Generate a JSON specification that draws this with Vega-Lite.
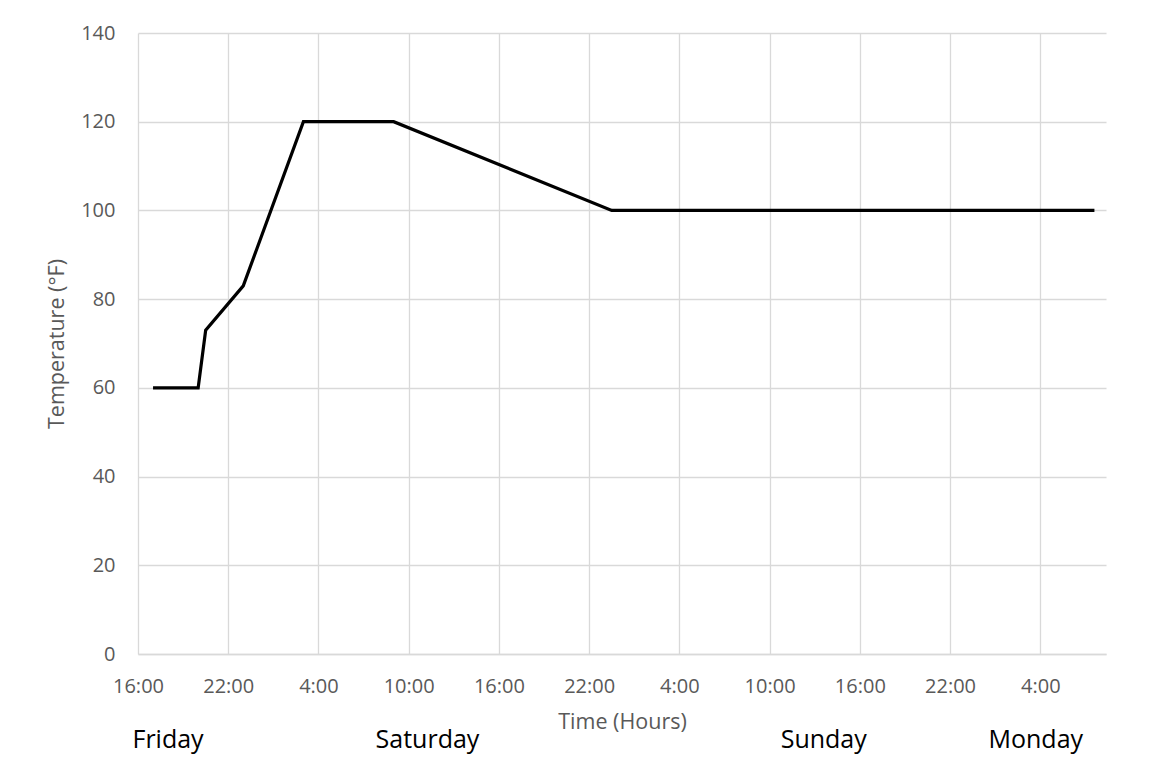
{
  "$schema": "https://vega.github.io/schema/vega-lite/v6.json",
  "width": 968,
  "height": 621,
  "autosize": {"type": "none"},
  "padding": {"left": 138, "top": 33, "right": 47, "bottom": 115},
  "background": "white",
  "config": {"view": {"stroke": null}, "font": "Open Sans"},
  "datasets": {
    "temps": [
      {"hour": 1.0, "temp": 60},
      {"hour": 4.0, "temp": 60},
      {"hour": 4.5, "temp": 73},
      {"hour": 7.0, "temp": 83},
      {"hour": 11.0, "temp": 120},
      {"hour": 17.0, "temp": 120},
      {"hour": 31.5, "temp": 100},
      {"hour": 63.6, "temp": 100}
    ],
    "days": [
      {"day": "Friday", "hour": 2.0},
      {"day": "Saturday", "hour": 19.25},
      {"day": "Sunday", "hour": 45.6},
      {"day": "Monday", "hour": 59.7}
    ]
  },
  "layer": [
    {
      "data": {"name": "temps"},
      "mark": {"type": "line", "color": "black", "strokeWidth": 3.2},
      "encoding": {
        "x": {
          "field": "hour",
          "type": "quantitative",
          "scale": {"domain": [0, 64.37], "nice": false, "zero": false},
          "axis": {
            "values": [0, 6, 12, 18, 24, 30, 36, 42, 48, 54, 60],
            "labelExpr": "((16 + datum.value) % 24) + ':00'",
            "title": "Time (Hours)",
            "grid": true,
            "gridColor": "#d9d9d9",
            "gridWidth": 1.3,
            "ticks": false,
            "domainColor": "#d9d9d9",
            "domainWidth": 1.3,
            "labelFont": "Open Sans",
            "labelFontSize": 20,
            "labelColor": "#595959",
            "labelPadding": 22,
            "labelFlush": false,
            "labelOverlap": false,
            "titleFont": "Open Sans",
            "titleFontSize": 21.5,
            "titleFontWeight": "normal",
            "titleColor": "#595959",
            "titlePadding": 15
          }
        },
        "y": {
          "field": "temp",
          "type": "quantitative",
          "scale": {"domain": [0, 140], "nice": false},
          "axis": {
            "values": [0, 20, 40, 60, 80, 100, 120, 140],
            "title": "Temperature (°F)",
            "grid": true,
            "gridColor": "#d9d9d9",
            "gridWidth": 1.3,
            "ticks": false,
            "domain": false,
            "labelFont": "Open Sans",
            "labelFontSize": 20,
            "labelColor": "#595959",
            "labelPadding": 23,
            "labelFlush": false,
            "labelOverlap": false,
            "titleFont": "Open Sans",
            "titleFontSize": 21.5,
            "titleFontWeight": "normal",
            "titleColor": "#595959",
            "titlePadding": 12
          }
        }
      }
    },
    {
      "data": {"name": "days"},
      "mark": {"type": "text", "fontSize": 25, "color": "black", "font": "Open Sans", "baseline": "middle", "align": "center"},
      "encoding": {
        "x": {"field": "hour", "type": "quantitative"},
        "y": {"datum": -19.5},
        "text": {"field": "day"}
      }
    }
  ]
}
